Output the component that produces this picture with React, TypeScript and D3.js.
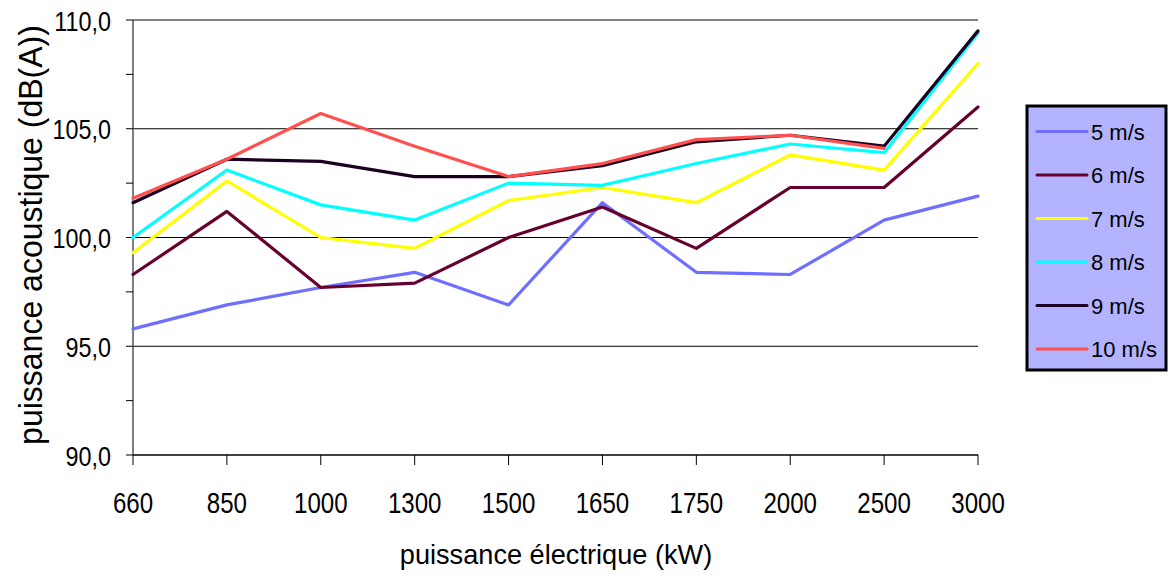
import React from "react";
import * as d3 from "d3";

const categories = ["660", "850", "1000", "1300", "1500", "1650", "1750", "2000", "2500", "3000"];
const seriesNames = ["5 m/s", "6 m/s", "7 m/s", "8 m/s", "9 m/s", "10 m/s"];
const seriesColors = ["#6f6fff", "#66002e", "#ffff00", "#00ffff", "#1c0022", "#ff4f4f"];
const s5 = [95.8, 96.9, 97.7, 98.4, 96.9, 101.6, 98.4, 98.3, 100.8, 101.9];
const s6 = [98.3, 101.2, 97.7, 97.9, 100.0, 101.4, 99.5, 102.3, 102.3, 106.0];
const s7 = [99.3, 102.6, 100.0, 99.5, 101.7, 102.3, 101.6, 103.8, 103.1, 108.0];
const s8 = [100.0, 103.1, 101.5, 100.8, 102.5, 102.4, 103.4, 104.3, 103.9, 109.4];
const s9 = [101.6, 103.6, 103.5, 102.8, 102.8, 103.3, 104.4, 104.7, 104.2, 109.5];
const s10: (number | null)[] = [101.8, 103.6, 105.7, 104.2, 102.8, 103.4, 104.5, 104.7, 104.1, null];
const seriesValues: (number | null)[][] = [s5, s6, s7, s8, s9, s10];
const yMajorTicks = [90, 95, 100, 105, 110];
const yMinorTicks = [92.5, 97.5, 102.5, 107.5];

const FONT = "'Liberation Sans', Arial, sans-serif";

export default function App() {
  const W = 1168, H = 578;
  const left = 133, right = 978, top = 20, bottom = 455;
  const x = d3.scalePoint<string>().domain(categories).range([left, right]).padding(0);
  const y = d3.scaleLinear().domain([90, 110]).range([bottom, top]);
  const line = d3
    .line<number | null>()
    .defined((d) => d !== null)
    .x((_, i) => x(categories[i]) as number)
    .y((d) => y(d as number));
  const fmt = (v: number) => v.toFixed(1).replace(".", ",");

  const legX = 1027, legY = 106, legW = 139, legH = 264;
  const rowY = (i: number) => 131.5 + i * 43.5;

  return (
    <svg width={W} height={H} style={{ position: "absolute", left: 0, top: 0, background: "#fff" }} fontFamily={FONT}>
      {/* gridlines */}
      {yMajorTicks.filter((t) => t !== 90).map((t) => (
        <line key={"g" + t} x1={left} x2={right} y1={y(t)} y2={y(t)} stroke="#000" strokeWidth={1} />
      ))}
      {/* y axis */}
      <line x1={left} x2={left} y1={top} y2={bottom} stroke="#555" strokeWidth={1.5} />
      {yMajorTicks.concat(yMinorTicks).map((t) => (
        <line key={"yt" + t} x1={left - 7} x2={left} y1={y(t)} y2={y(t)} stroke="#000" strokeWidth={1} />
      ))}
      {yMajorTicks.map((t) => (
        <text
          key={"yl" + t}
          transform={`translate(111, ${y(t) + 10.5}) scale(0.82, 1)`}
          textAnchor="end"
          fontSize={28.5}
          fill="#000"
        >
          {fmt(t)}
        </text>
      ))}
      {/* x axis */}
      <line x1={left} x2={right} y1={bottom} y2={bottom} stroke="#000" strokeWidth={1.5} />
      {categories.map((c) => (
        <line key={"xt" + c} x1={x(c)} x2={x(c)} y1={bottom} y2={bottom + 10} stroke="#000" strokeWidth={1} />
      ))}
      {categories.map((c) => (
        <text
          key={"xl" + c}
          transform={`translate(${x(c)}, 513) scale(0.83, 1)`}
          textAnchor="middle"
          fontSize={29}
          fill="#000"
        >
          {c}
        </text>
      ))}
      {/* axis titles */}
      <text transform="translate(556, 564) scale(0.97, 1)" textAnchor="middle" fontSize={28} fill="#000">
        puissance électrique (kW)
      </text>
      <text transform="translate(42, 235) rotate(-90) scale(0.97, 1)" textAnchor="middle" fontSize={33} fill="#000">
        puissance acoustique (dB(A))
      </text>
      {/* series */}
      {seriesValues.map((vals, si) => (
        <path
          key={"s" + si}
          d={line(vals) || ""}
          fill="none"
          stroke={seriesColors[si]}
          strokeWidth={3.2}
          strokeLinejoin="round"
          strokeLinecap="round"
        />
      ))}
      {/* legend */}
      <rect x={legX} y={legY} width={legW} height={legH} fill="#b3b3ff" stroke="#000" strokeWidth={3} />
      {seriesNames.map((n, i) => (
        <g key={"lg" + i}>
          <line x1={1037} x2={1087} y1={rowY(i)} y2={rowY(i)} stroke={seriesColors[i]} strokeWidth={3} strokeLinecap="round" />
          <text x={1091} y={rowY(i) + 8} fontSize={22} fill="#000">
            {n}
          </text>
        </g>
      ))}
    </svg>
  );
}
